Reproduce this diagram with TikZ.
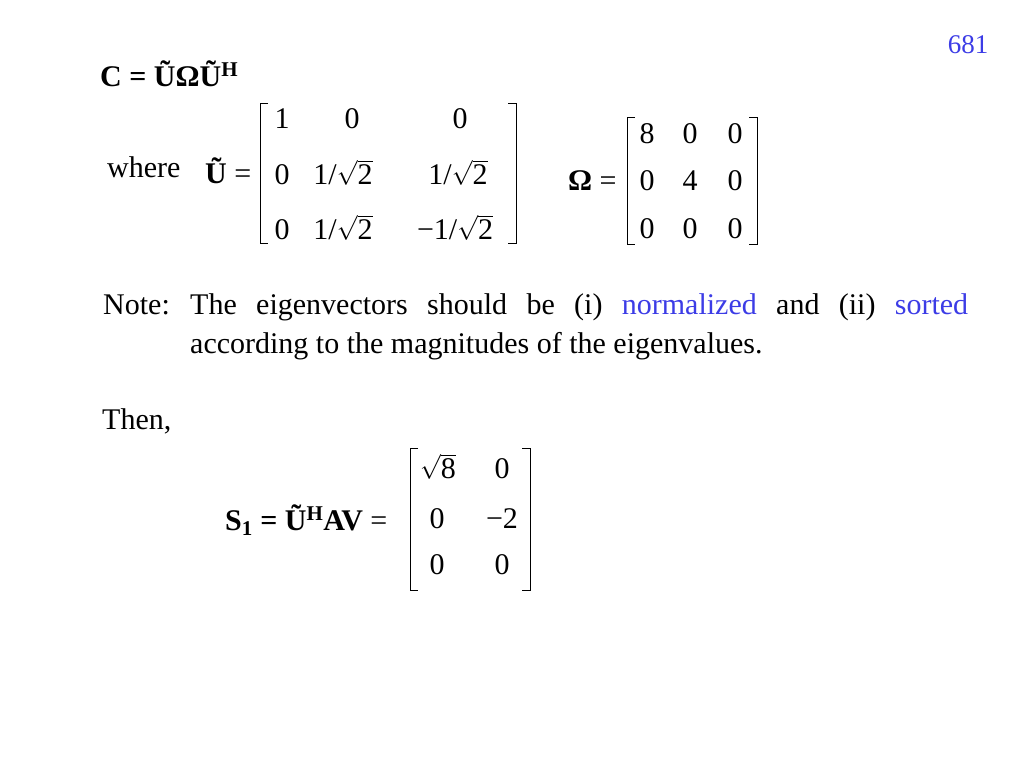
\documentclass[tikz,border=0pt]{standalone}
\usepackage{fontspec}
\setmainfont{Liberation Serif}
\newcommand{\rt}[1]{$\sqrt{\hbox{#1}}$}
\begin{document}
\begin{tikzpicture}[x=1pt,y=-1pt,
  t/.style={anchor=base west,inner sep=0pt,font=\fontsize{30}{34}\selectfont},
  c/.style={anchor=base,inner sep=0pt,font=\fontsize{30}{34}\selectfont},
  br/.style={line width=1pt}]
\useasboundingbox (0,0) rectangle (1024,768);
\definecolor{blu}{RGB}{60,60,230}
\node[c,text=blu,font=\fontsize{27}{30}\selectfont] (pg) at (968,53) {681};
\node[t] (ceq) at (100,86) {\textbf{C = ŨΩŨ\textsuperscript{H}}};
\node[t] (wh) at (107,177) {where};
\node[t] (ueq) at (205,183) {\textbf{Ũ} =};
% U matrix
\draw[br] (268,103) -- (260,103) -- (260,243) -- (268,243);
\draw[br] (508,103) -- (516,103) -- (516,243) -- (508,243);
\node[c] (u11) at (282,128) {1};
\node[c] (u12) at (352,128) {0};
\node[c] (u13) at (460,128) {0};
\node[c] (u21) at (282,184) {0};
\node[c] (u22) at (343,184) {1/\rt{2}};
\node[c] (u23) at (458,184) {1/\rt{2}};
\node[c] (u31) at (282,239) {0};
\node[c] (u32) at (343,239) {1/\rt{2}};
\node[c] (u33) at (455,239) {−1/\rt{2}};
% Omega
\node[t] (oeq) at (568,190) {\textbf{Ω} =};
\draw[br] (635,117) -- (627,117) -- (627,244) -- (635,244);
\draw[br] (749,117) -- (757,117) -- (757,244) -- (749,244);
\node[c] (o11) at (647,143) {8};
\node[c] (o12) at (690,143) {0};
\node[c] (o13) at (735,143) {0};
\node[c] (o21) at (647,190) {0};
\node[c] (o22) at (690,190) {4};
\node[c] (o23) at (735,190) {0};
\node[c] (o31) at (647,238) {0};
\node[c] (o32) at (690,238) {0};
\node[c] (o33) at (735,238) {0};
% Note
\node[t] (note) at (103,314) {Note:};
\node[t] (l1) at (190,314) {\makebox[778pt][s]{The eigenvectors should be (i) \textcolor{blu}{normalized} and (ii) \textcolor{blu}{sorted}}};
\node[t] (l2) at (190,353) {according to the magnitudes of the eigenvalues.};
\node[t] (then) at (102,429) {Then,};
% S1
\node[t] (seq) at (225,530) {\textbf{S\textsubscript{1} = Ũ\textsuperscript{H}AV} =};
\draw[br] (418,448) -- (410,448) -- (410,590) -- (418,590);
\draw[br] (522,448) -- (530,448) -- (530,590) -- (522,590);
\node[c] (s11) at (438,478) {\rt{8}};
\node[c] (s12) at (502,478) {0};
\node[c] (s21) at (437,528) {0};
\node[c] (s22) at (502,528) {−2};
\node[c] (s31) at (437,574) {0};
\node[c] (s32) at (502,574) {0};
\end{tikzpicture}
\end{document}
